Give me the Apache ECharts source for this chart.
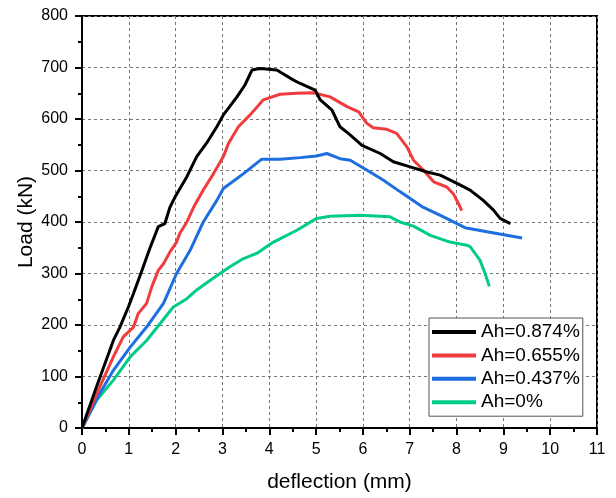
<!DOCTYPE html>
<html><head><meta charset="utf-8">
<script src="https://cdn.jsdelivr.net/npm/echarts@6/dist/echarts.min.js"></script>
<style>html,body{margin:0;padding:0;background:#fff}#c{width:616px;height:498px}</style>
</head><body><div id="c"></div>
<script>
var seriesNames = ['Ah=0.874%','Ah=0.655%','Ah=0.437%','Ah=0%'];
var blackX = [0,0.31,0.67,0.81,0.99,1.10,1.28,1.45,1.63,1.77,1.88,1.99,2.24,2.45,2.66,2.88,3.02,3.31,3.48,3.63,3.80,4.16,4.51,4.66,4.98,5.09,5.34,5.51,5.69,5.98,6.37,6.65,7.01,7.37,7.65,8.01,8.29,8.57,8.79,8.93,9.15];
var blackY = [0,80,170,196,235,261,306,349,391,397,429,449,488,527,553,585,608,643,666,695,698,695,676,669,656,637,617,585,572,549,533,517,507,497,491,475,462,442,423,407,397];
var redX = [0,0.38,0.67,0.88,1.10,1.20,1.38,1.49,1.63,1.74,1.88,2.02,2.09,2.24,2.38,2.59,2.81,3.02,3.13,3.34,3.59,3.87,4.23,4.59,4.94,5.30,5.66,5.91,6.08,6.22,6.51,6.72,6.94,7.08,7.29,7.51,7.79,7.93,8.04,8.11];
var redY = [0,80,138,177,196,222,242,274,306,319,342,361,378,400,428,462,494,527,553,585,608,637,648,650,651,643,624,614,592,583,580,572,546,520,501,478,468,455,436,422];
var blueX = [0,0.38,0.67,1.03,1.38,1.74,2.02,2.31,2.59,2.88,3.02,3.45,3.84,4.23,4.66,5.01,5.23,5.51,5.73,6.08,6.44,6.79,7.26,7.72,8.18,8.65,9.40];
var blueY = [0,67,112,157,196,242,300,345,400,442,465,494,522,522,525,528,533,523,520,501,481,459,430,410,389,381,369];
var greenX = [0,0.31,0.67,1.03,1.38,1.67,1.95,2.24,2.45,2.74,2.95,3.16,3.45,3.73,4.09,4.59,5.01,5.30,5.94,6.58,6.79,7.08,7.44,7.86,8.22,8.29,8.50,8.61,8.70];
var greenY = [0,54,93,138,170,203,235,251,268,287,300,313,329,339,361,384,407,411,413,410,400,392,374,361,355,352,326,300,275];

var colors = ['#000000','#f03c3c','#1e6ee0','#00cc88'];
function zip(xs, ys){ return xs.map(function(x,i){ return [x, ys[i]]; }); }
var dataSets = [zip(blackX,blackY), zip(redX,redY), zip(blueX,blueY), zip(greenX,greenY)];
var font = '"Liberation Sans", Arial, sans-serif';

var chart = echarts.init(document.getElementById('c'), null, {renderer:'canvas'});
chart.setOption({
  animation:false,
  backgroundColor:'#fff',
  grid:{left:82, top:16, right:19, bottom:70, show:true, borderColor:'#000', borderWidth:2, backgroundColor:'transparent'},
  legend:{
    orient:'vertical', left:429, top:318,
    data:seriesNames,
    icon:'rect', itemWidth:44, itemHeight:4, itemGap:3.4,
    padding:[4,3,4,3],
    backgroundColor:'#fff', borderColor:'#555', borderWidth:1, borderRadius:0,
    textStyle:{fontFamily:font, fontSize:19, color:'#000', lineHeight:20}
  },
  xAxis:{
    type:'value', min:0, max:11, interval:1,
    name:'deflection (mm)', nameLocation:'middle', nameGap:44, nameMoveOverlap:false,
    nameTextStyle:{fontFamily:font, fontSize:21, color:'#000'},
    axisLine:{show:true, onZero:false, lineStyle:{color:'#000', width:2}},
    axisTick:{show:true, inside:false, length:7, lineStyle:{color:'#000', width:2}},
    minorTick:{show:true, splitNumber:2, length:4, lineStyle:{color:'#000', width:2}},
    axisLabel:{fontFamily:font, fontSize:16, color:'#000', margin:14},
    splitLine:{show:true, lineStyle:{color:'#777', type:[3,3], width:1}}
  },
  yAxis:{
    type:'value', min:0, max:800, interval:100,
    name:'Load (kN)', nameLocation:'middle', nameGap:45, nameMoveOverlap:false,
    nameTextStyle:{fontFamily:font, fontSize:21, color:'#000'},
    axisLine:{show:true, onZero:false, lineStyle:{color:'#000', width:2}},
    axisTick:{show:true, inside:false, length:7, lineStyle:{color:'#000', width:2}},
    minorTick:{show:true, splitNumber:2, length:4, lineStyle:{color:'#000', width:2}},
    axisLabel:{fontFamily:font, fontSize:16, color:'#000', margin:14},
    splitLine:{show:true, lineStyle:{color:'#777', type:[3,3], width:1}}
  },
  series: seriesNames.map(function(n,i){
    return {name:n, type:'line', data:dataSets[i], showSymbol:false, symbol:'none',
      smooth:false, color:colors[i], lineStyle:{color:colors[i], width:3}, z:10-i};
  })
});
</script></body></html>
